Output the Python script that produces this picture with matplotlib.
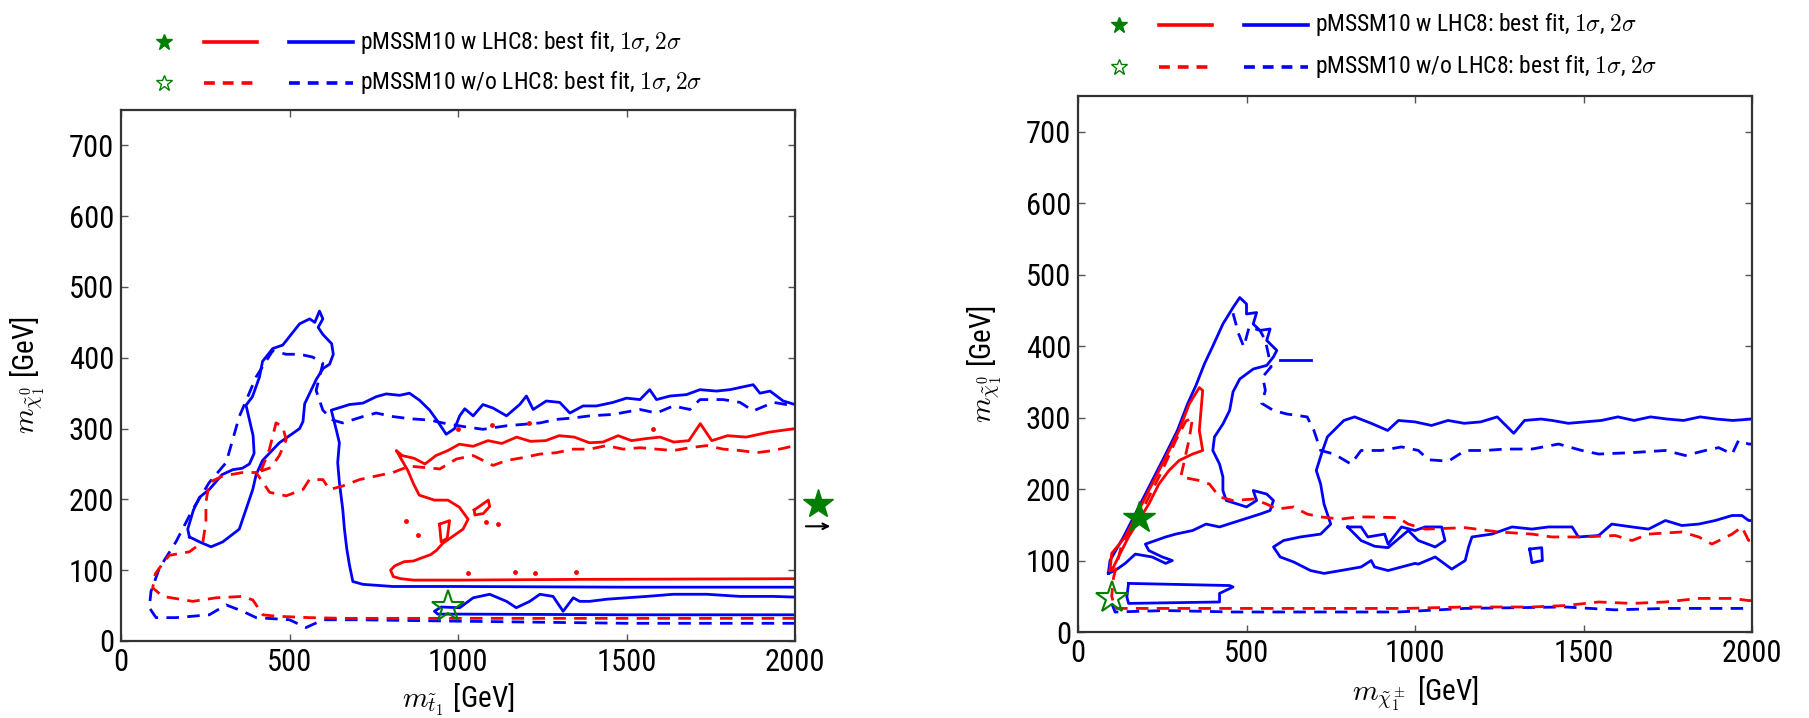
import matplotlib
matplotlib.use("Agg")
import matplotlib.pyplot as plt
from matplotlib import font_manager
from matplotlib.lines import Line2D

# ---- font: a narrow sans if one is installed, else DejaVu Sans a bit smaller
FONT, STRETCH, TICK_FS, LAB_FS, KEY_FS = "DejaVu Sans", "normal", 18, 19, 15
for f in font_manager.fontManager.ttflist:
    st = str(f.stretch).lower()
    if f.name in ("Liberation Sans Narrow", "Arial Narrow", "Roboto Condensed", "Open Sans Condensed"):
        FONT, STRETCH, TICK_FS, LAB_FS, KEY_FS = f.name, "normal", 22, 21, 17
        break
    if f.name == "DejaVu Sans" and "condensed" in st and "semi" not in st and "ultra" not in st:
        FONT, STRETCH, TICK_FS, LAB_FS, KEY_FS = "DejaVu Sans", "condensed", 20, 20, 16
plt.rcParams["font.family"] = FONT
plt.rcParams["font.stretch"] = STRETCH
plt.rcParams["mathtext.fontset"] = "cm"

BLUE = "#0000ff"
RED = "#ff0000"
GREEN = "#007f00"

# ================= left panel: stop mass vs neutralino mass =================
# blue solid (2 sigma, with LHC8): tall peak + small loop (closed)
st_bs1_x = [203, 198, 215, 233, 262, 300, 332, 360, 381, 395, 392, 371, 390, 411, 420, 450, 480, 500,
            530, 560, 575, 589, 599, 585, 599, 625, 630, 619, 600, 580, 560, 545, 540, 530, 500, 470,
            450, 420, 401, 391, 371, 351, 302, 267, 233, 203]
st_bs1_y = [147, 158, 185, 203, 214, 235, 242, 244, 250, 265, 290, 333, 345, 373, 395, 413, 418, 430,
            448, 455, 450, 466, 455, 443, 433, 420, 405, 391, 385, 370, 350, 335, 310, 300, 290, 280,
            270, 255, 235, 214, 186, 158, 140, 133, 140, 147]
# blue solid: large band (open at x=2000)
st_bs2_x = [2000, 1500, 1000, 807, 718, 688, 678, 670, 663, 658, 648, 643, 648, 639, 624, 658, 678, 718,
            757, 787, 827, 856, 886, 916, 940, 965, 990, 1005, 1020, 1045, 1074, 1104, 1144, 1183, 1203,
            1223, 1262, 1302, 1332, 1371, 1411, 1460, 1500, 1540, 1569, 1589, 1629, 1678, 1718, 1767,
            1807, 1856, 1876, 1896, 1926, 1965, 2000]
st_bs2_y = [76, 76, 77, 77, 80, 84, 107, 130, 158, 186, 224, 252, 280, 298, 326, 331, 334, 336,
            345, 349, 347, 350, 340, 326, 310, 292, 300, 318, 328, 318, 334, 329, 318, 334, 346,
            327, 339, 337, 322, 332, 332, 337, 343, 341, 355, 341, 346, 348, 355, 353,
            355, 360, 362, 350, 353, 339, 334]
# blue solid: lower thin band
st_bs3_x = [2000, 1500, 1000, 940, 930, 950, 1005, 1045, 1094, 1144, 1173, 1213, 1243, 1282, 1312, 1342,
            1361, 1391, 1441, 1500, 1560, 1639, 1738, 1837, 1936, 2000]
st_bs3_y = [37, 37, 38, 38, 42, 48, 47, 61, 66, 56, 47, 56, 66, 63, 42, 61, 56, 56, 59, 61, 63, 66,
            66, 63, 63, 62]
# red solid (1 sigma, with LHC8)
st_rs_x = [2000, 1345, 1004, 900, 868, 830, 808, 800, 812, 840, 868, 890, 919, 936, 955, 985, 1015, 1030,
           1004, 970, 930, 885, 868, 851, 834, 817, 834, 870, 902, 935, 970, 1004, 1045, 1089, 1130, 1174,
           1215, 1260, 1300, 1345, 1390, 1430, 1475, 1515, 1560, 1600, 1640, 1685, 1719, 1753, 1800,
           1855, 1923, 2000]
st_rs_y = [88, 87, 86, 86, 86, 88, 91, 100, 106, 112, 113, 117, 122, 128, 138, 148, 158, 172,
           189, 199, 199, 206, 222, 241, 255, 269, 262, 258, 250, 262, 269, 278, 275, 283, 279, 288,
           282, 283, 290, 288, 280, 281, 290, 283, 286, 288, 281, 283, 307, 283, 290,
           288, 295, 300]
st_risl1_x = [945, 975, 968, 950, 945]
st_risl1_y = [165, 170, 145, 140, 165]
st_risl2_x = [1048, 1090, 1094, 1075, 1050, 1048]
st_risl2_y = [185, 199, 190, 180, 178, 185]
st_rdot_x = [1082, 1120, 880, 845, 1030, 1168, 1228, 1351, 1000, 1100, 1210, 1580]
st_rdot_y = [168, 165, 150, 170, 96, 97, 96, 97, 300, 305, 308, 300]
# red dashed (1 sigma, without LHC8)
st_rd_x = [2000, 1500, 1004, 664, 559, 460, 421, 391, 361, 282, 213, 124, 94, 102, 114, 143, 203, 243,
           252, 252, 262, 302, 361, 401, 421, 441, 490, 540, 559, 599, 619, 658, 708, 757, 807, 856,
           946, 995, 1045, 1104, 1144, 1193, 1243, 1292, 1342, 1391, 1441, 1490, 1540, 1589, 1639,
           1688, 1738, 1787, 1837, 1886, 1936, 2000]
st_rd_y = [32, 32, 32, 32, 33, 35, 37, 58, 63, 61, 56, 63, 75, 95, 103, 121, 126, 140,
           168, 196, 224, 233, 238, 238, 224, 210, 205, 214, 228, 228, 214, 219, 228, 233, 238, 247,
           243, 257, 262, 248, 255, 259, 264, 266, 271, 271, 276, 271, 273, 271, 269,
           273, 276, 271, 269, 266, 269, 276]
st_rd_spike_x = [415, 440, 460, 480, 490, 470, 445, 415]
st_rd_spike_y = [240, 270, 308, 303, 284, 262, 245, 240]
# blue dashed (2 sigma, without LHC8)
st_bd_x = [2000, 1500, 1000, 700, 600, 549, 500, 401, 361, 312, 262, 163, 104, 84, 89, 114, 163, 213,
           262, 312, 351, 401, 450, 490, 530, 569, 599, 589, 579, 599, 629, 658, 718, 757, 807, 856,
           916, 955, 1015, 1074, 1144, 1243, 1292, 1342, 1391, 1460, 1540, 1589, 1639, 1688, 1718,
           1787, 1837, 1876, 1936, 2000]
st_bd_y = [25, 25, 28, 30, 30, 19, 30, 33, 42, 51, 37, 33, 33, 47, 70, 103, 140, 186,
           224, 252, 317, 373, 410, 405, 405, 401, 392, 373, 354, 326, 312, 308, 317, 322, 317, 314,
           312, 308, 303, 299, 304, 308, 313, 315, 318, 320, 327, 322, 332, 327, 341,
           341, 337, 325, 337, 332]
st_best_open = (970, 48)
st_best_filled = (2068, 193)
st_arrow = (2024, 2113, 162)

# ================= right panel: chargino mass vs neutralino mass =================
ch_rs_x = [95, 100, 140, 180, 220, 260, 300, 330, 360, 370, 365, 360, 370, 340, 300, 270, 240, 210,
           180, 150, 120, 100, 95]
ch_rs_y = [86, 110, 133, 170, 207, 244, 282, 319, 342, 338, 310, 282, 254, 249, 240, 226, 207, 179,
           156, 133, 105, 86, 86]
ch_rd_x = [2000, 1990, 1941, 1842, 1743, 1644, 1545, 1446, 1347, 1149, 970, 660, 460, 260, 110, 100,
           105, 130, 190, 250, 290, 320, 340, 330, 305, 360, 390, 420, 460, 520, 560, 590, 640, 680,
           720, 780, 830, 860, 950, 980, 1030, 1149, 1248, 1347, 1406, 1495, 1594, 1644, 1693, 1792,
           1842, 1881, 1941, 1970, 1990, 2000]
ch_rd_y = [44, 44, 47, 47, 42, 40, 42, 37, 35, 35, 33, 33, 33, 33, 33, 50,
           75, 123, 170, 226, 268, 295, 300, 270, 217, 212, 207, 189, 184, 186, 179, 172, 175, 165,
           161, 158, 161, 161, 160, 151, 144, 146, 140, 137, 133, 133, 135, 128, 137, 140,
           133, 123, 137, 147, 128, 130]
ch_bs1_x = [90, 95, 135, 175, 215, 255, 295, 325, 350, 375, 400, 430, 460, 480, 500, 500, 530, 520,
            540, 570, 560, 590, 580, 560, 520, 480, 460, 450, 430, 405, 400, 420, 430, 430, 440, 500,
            530, 520, 560, 580, 570, 540, 480, 420, 380, 340, 290, 260, 230, 200, 210, 250, 280, 260,
            220, 170, 140, 110, 90]
ch_bs1_y = [82, 100, 133, 170, 207, 244, 282, 319, 345, 375, 400, 431, 454, 468, 459, 445, 447, 431,
            422, 424, 408, 394, 385, 373, 368, 354, 336, 310, 291, 273, 254, 235, 217, 198, 184, 175,
            184, 198, 193, 184, 170, 165, 156, 147, 151, 142, 137, 133, 128, 123, 114, 105, 100, 96,
            105, 109, 96, 86, 82]
ch_stub_x = [600, 690]
ch_stub_y = [380, 380]
ch_bs2_x = [2000, 1943, 1894, 1846, 1797, 1748, 1699, 1650, 1602, 1553, 1504, 1455, 1407, 1374, 1325,
            1293, 1244, 1195, 1146, 1098, 1049, 1000, 951, 919, 870, 821, 789, 740, 723, 707, 720, 730,
            750, 720, 660, 610, 580, 600, 640, 690, 730, 780, 840, 870, 880, 920, 960, 1000, 1010, 1060,
            1109, 1149, 1159, 1169, 1228, 1288, 1347, 1396, 1466, 1485, 1545, 1584, 1644, 1693, 1743,
            1792, 1842, 1891, 1941, 1970, 1990, 2000]
ch_bs2_y = [298, 296, 298, 301, 296, 298, 301, 296, 301, 296, 294, 292, 296, 298, 296,
            278, 301, 294, 292, 296, 289, 294, 296, 282, 292, 301, 296, 273, 250, 226, 207, 179,
            151, 137, 133, 128, 119, 105, 98, 86, 82, 86, 91, 100, 91, 86, 91, 96, 95, 105,
            88, 100, 119, 133, 137, 147, 144, 147, 147, 133, 135, 151, 147, 144, 156,
            149, 151, 156, 163, 163, 156, 156]
ch_bloop_x = [800, 840, 860, 910, 920, 960, 1000, 1030, 1079, 1089, 1060, 1010, 980, 950, 920, 880, 840, 800]
ch_bloop_y = [147, 147, 133, 137, 123, 147, 142, 147, 147, 128, 119, 128, 142, 130, 118, 120, 128, 147]
ch_bsmall_x = [1340, 1376, 1378, 1347, 1340]
ch_bsmall_y = [116, 118, 100, 97, 116]
ch_brect_x = [150, 450, 460, 420, 420, 150, 145, 150]
ch_brect_y = [68, 65, 63, 54, 42, 40, 49, 68]
ch_bd1_x = [100, 110, 260, 460, 710, 950, 1149, 1446, 1594, 1743, 1990, 2000]
ch_bd1_y = [40, 28, 30, 28, 28, 28, 33, 35, 31, 33, 33, 33]
ch_bd2_x = [460, 476, 492, 508, 540, 556, 573, 548, 556, 545, 580, 620, 680, 700, 720, 760, 810, 840, 900,
            960, 1010, 1040, 1099, 1149, 1208, 1268, 1347, 1426, 1495, 1545, 1644, 1743, 1802, 1862,
            1901, 1941, 1960, 1990, 2000]
ch_bd2_y = [446, 418, 399, 427, 422, 408, 371, 357, 338, 320, 310, 305, 301, 282, 254, 249, 235, 254, 254,
            259, 254, 241, 239, 254, 254, 256, 256, 263, 254, 249, 251, 254, 247, 254,
            258, 249, 268, 263, 263]
ch_best_filled = (182, 160)
ch_best_open = (100, 48)

xticks = [0, 500, 1000, 1500, 2000]
yticks = [0, 100, 200, 300, 400, 500, 600, 700]

W, H = 1809, 718
fig = plt.figure(figsize=(W / 100, H / 100), dpi=100)
ax1 = fig.add_axes([121 / W, (H - 641) / H, 674 / W, 531 / H])
ax2 = fig.add_axes([1078 / W, (H - 632) / H, 674 / W, 536 / H])

LW = 2.0
DASH = (0, (4.5, 3.0))


def style(ax, xlabel, label_gap):
    ax.set_xlim(0, 2000)
    ax.set_ylim(0, 750)
    ax.set_xticks(xticks)
    ax.set_yticks(yticks)
    ax.tick_params(direction="in", top=True, right=True, length=5, width=1,
                   labelsize=TICK_FS, color="#555555", pad=5)
    for s in ax.spines.values():
        s.set_linewidth(1.6)
        s.set_color("#333333")
    ax.set_xlabel(xlabel + " [GeV]", fontsize=LAB_FS)
    ax.set_ylabel(r"$m_{\tilde{\chi}^0_1}$" + " [GeV]", fontsize=LAB_FS)
    h_px = ax.get_position().height * H
    ax.xaxis.set_label_coords(0.5, -label_gap / h_px)
    ax.yaxis.set_label_coords(-0.11, 0.5)


def line(ax, x, y, c, dashed=False):
    ax.plot(x, y, color=c, lw=LW, linestyle=DASH if dashed else "-")


# left panel
line(ax1, st_bs1_x, st_bs1_y, BLUE)
line(ax1, st_bs2_x, st_bs2_y, BLUE)
line(ax1, st_bs3_x, st_bs3_y, BLUE)
line(ax1, st_bd_x, st_bd_y, BLUE, True)
line(ax1, st_rd_x, st_rd_y, RED, True)
line(ax1, st_rd_spike_x, st_rd_spike_y, RED, True)
line(ax1, st_rs_x, st_rs_y, RED)
line(ax1, st_risl1_x, st_risl1_y, RED)
line(ax1, st_risl2_x, st_risl2_y, RED)
ax1.plot(st_rdot_x, st_rdot_y, "o", color=RED, ms=3.5, mew=0)
ax1.plot(*st_best_open, marker="*", ms=24, mfc="none", mec=GREEN, mew=1.5)
ax1.plot(*st_best_filled, marker="*", ms=22, color=GREEN, clip_on=False)
ax1.annotate("", xy=(st_arrow[1], st_arrow[2]), xytext=(st_arrow[0], st_arrow[2]),
             arrowprops=dict(arrowstyle="->", color="black", lw=1.5), annotation_clip=False)
style(ax1, r"$m_{\tilde{t}_1}$", 41)

# right panel
line(ax2, ch_bs1_x, ch_bs1_y, BLUE)
line(ax2, ch_stub_x, ch_stub_y, BLUE)
line(ax2, ch_bs2_x, ch_bs2_y, BLUE)
line(ax2, ch_bloop_x, ch_bloop_y, BLUE)
line(ax2, ch_bsmall_x, ch_bsmall_y, BLUE)
line(ax2, ch_brect_x, ch_brect_y, BLUE)
line(ax2, ch_bd1_x, ch_bd1_y, BLUE, True)
line(ax2, ch_bd2_x, ch_bd2_y, BLUE, True)
line(ax2, ch_rd_x, ch_rd_y, RED, True)
line(ax2, ch_rs_x, ch_rs_y, RED)
ax2.plot(*ch_best_filled, marker="*", ms=24, color=GREEN)
ax2.plot(*ch_best_open, marker="*", ms=24, mfc="none", mec=GREEN, mew=1.5)
style(ax2, r"$m_{\tilde{\chi}^\pm_1}$", 43)


# legends drawn in figure pixels above each panel
def key_block(x0, rows):
    labels = [r"pMSSM10 w LHC8: best fit, $1\sigma$, $2\sigma$",
              r"pMSSM10 w/o LHC8: best fit, $1\sigma$, $2\sigma$"]
    for i, (yrow, lab) in enumerate(zip(rows, labels)):
        y = (H - yrow) / H
        ls = "-" if i == 0 else (0, (3, 2.2))
        if i == 0:
            fig.add_artist(Line2D([x0 / W], [y], marker="*", ms=12, color=GREEN, lw=0))
        else:
            fig.add_artist(Line2D([x0 / W], [y], marker="*", ms=12, mfc="none", mec=GREEN,
                                  mew=1, lw=0))
        fig.add_artist(Line2D([(x0 + 40) / W, (x0 + 93) / W], [y, y], color=RED, lw=2.6, ls=ls))
        fig.add_artist(Line2D([(x0 + 125) / W, (x0 + 189) / W], [y, y], color=BLUE, lw=2.6, ls=ls))
        fig.text((x0 + 196) / W, y, lab, fontsize=KEY_FS, va="center", ha="left")


key_block(164, [42, 83])
key_block(1119, [25, 67])

fig.savefig("out.png", dpi=100)
